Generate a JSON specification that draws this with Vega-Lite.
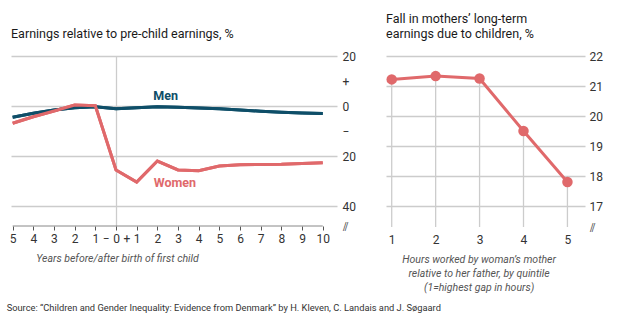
{
  "$schema": "https://vega.github.io/schema/vega-lite/v6.json",
  "background": "white",
  "padding": {"left": 6, "top": 12, "right": 10, "bottom": 8},
  "config": {
    "font": "Roboto",
    "view": {"stroke": null},
    "axis": {"labelColor": "#333333", "labelFontSize": 12, "labelOverlap": false, "labelFlush": false, "tickCount": 50, "gridColor": "#cccccc", "gridWidth": 1.3, "titleFontWeight": "normal", "titleColor": "#555555", "titleFontStyle": "italic", "titleFontSize": 10.5}
  },
  "datasets": {
    "earn": [
      {"year": -5, "value": -4.5, "sex": "Men"},
      {"year": -4, "value": -2.9, "sex": "Men"},
      {"year": -3, "value": -1.6, "sex": "Men"},
      {"year": -2, "value": -0.7, "sex": "Men"},
      {"year": -1, "value": -0.3, "sex": "Men"},
      {"year": 0, "value": -1.1, "sex": "Men"},
      {"year": 1, "value": -0.7, "sex": "Men"},
      {"year": 2, "value": -0.3, "sex": "Men"},
      {"year": 3, "value": -0.5, "sex": "Men"},
      {"year": 4, "value": -0.8, "sex": "Men"},
      {"year": 5, "value": -1.1, "sex": "Men"},
      {"year": 6, "value": -1.6, "sex": "Men"},
      {"year": 7, "value": -2.1, "sex": "Men"},
      {"year": 8, "value": -2.5, "sex": "Men"},
      {"year": 9, "value": -2.8, "sex": "Men"},
      {"year": 10, "value": -3.0, "sex": "Men"},
      {"year": -5, "value": -6.9, "sex": "Women"},
      {"year": -4, "value": -4.3, "sex": "Women"},
      {"year": -3, "value": -2.0, "sex": "Women"},
      {"year": -2, "value": 0.4, "sex": "Women"},
      {"year": -1, "value": 0.1, "sex": "Women"},
      {"year": 0, "value": -25.6, "sex": "Women"},
      {"year": 1, "value": -30.4, "sex": "Women"},
      {"year": 2, "value": -22.0, "sex": "Women"},
      {"year": 3, "value": -25.6, "sex": "Women"},
      {"year": 4, "value": -25.9, "sex": "Women"},
      {"year": 5, "value": -24.0, "sex": "Women"},
      {"year": 6, "value": -23.5, "sex": "Women"},
      {"year": 7, "value": -23.4, "sex": "Women"},
      {"year": 8, "value": -23.3, "sex": "Women"},
      {"year": 9, "value": -23.0, "sex": "Women"},
      {"year": 10, "value": -22.7, "sex": "Women"}
    ],
    "labels": [
      {"year": 2.4, "value": 4.2, "sex": "Men"},
      {"year": 2.85, "value": -30.8, "sex": "Women"}
    ],
    "fall": [
      {"quintile": 1, "value": 21.22},
      {"quintile": 2, "value": 21.33},
      {"quintile": 3, "value": 21.25},
      {"quintile": 4, "value": 19.5},
      {"quintile": 5, "value": 17.8}
    ]
  },
  "title": {"text": "Source: “Children and Gender Inequality: Evidence from Denmark” by H. Kleven, C. Landais and J. Søgaard", "orient": "bottom", "anchor": "start", "fontSize": 9.3, "fontWeight": "normal", "color": "#333333", "offset": 11},
  "bounds": "flush",
  "spacing": 49,
  "hconcat": [
    {
      "width": 326,
      "height": 170,
      "title": {"text": "Earnings relative to pre-child earnings, %", "anchor": "start", "fontSize": 12.5, "fontWeight": "normal", "color": "#1a1a1a", "offset": 10, "frame": "group"},
      "layer": [
        {
          "data": {"name": "earn"},
          "mark": {"type": "line", "strokeWidth": 3},
          "encoding": {
            "x": {"field": "year", "type": "quantitative", "scale": {"domain": [-5.08, 10.69], "nice": false, "zero": false},
              "axis": {"title": "Years before/after birth of first child", "titleX": 106, "titleAlign": "center", "titlePadding": 9,
                "values": [-5, -4, -3, -2, -1, -0.5, 0, 0.5, 1, 2, 3, 4, 5, 6, 7, 8, 9, 10],
                "tickCount": 50,
                "labelExpr": "datum.value == -0.5 ? '−' : datum.value == 0.5 ? '+' : abs(datum.value)",
                "labelOverlap": false, "labelFlush": false, "labelBound": false,
                "domain": false, "tickSize": 4, "tickColor": "#555555", "tickWidth": 1,
                "tickOpacity": {"condition": {"test": "abs(datum.value) == 0.5", "value": 0}, "value": 1},
                "grid": true,
                "gridOpacity": {"condition": {"test": "datum.value == 0", "value": 1}, "value": 0},
                "labelPadding": 3}},
            "y": {"field": "value", "type": "quantitative", "scale": {"domain": [-48, 20], "nice": false},
              "axis": {"orient": "right", "title": null, "values": [20, 10, 0, -10, -20, -40, -48],
                "tickCount": 50,
                "labelExpr": "datum.value == 10 ? '+' : datum.value == -10 ? '−' : datum.value == -48 ? '⫽' : abs(datum.value)",
                "labelOverlap": false,
                "domain": false, "ticks": false, "labelPadding": 5, "labelAlign": "left",
                "gridOpacity": {"condition": {"test": "datum.value == 10 || datum.value == -10 || datum.value == -48", "value": 0}, "value": 1}}},
            "color": {"field": "sex", "type": "nominal", "scale": {"domain": ["Men", "Women"], "range": ["#0e4e68", "#e0696b"]}, "legend": null}
          }
        },
        {
          "data": {"values": [{"from": -5, "to": 10, "base": -48}]},
          "mark": {"type": "rule", "color": "#888888", "strokeWidth": 1},
          "encoding": {"x": {"field": "from", "type": "quantitative"}, "x2": {"field": "to"}, "y": {"field": "base", "type": "quantitative"}}
        },
        {
          "mark": {"type": "rule", "color": "#e3120b", "strokeWidth": 1},
          "encoding": {"y": {"datum": 0}}
        },
        {
          "data": {"name": "earn"},
          "mark": {"type": "line", "strokeWidth": 3},
          "encoding": {
            "x": {"field": "year", "type": "quantitative"},
            "y": {"field": "value", "type": "quantitative"},
            "color": {"field": "sex", "type": "nominal", "legend": null}
          }
        },
        {
          "data": {"name": "labels"},
          "mark": {"type": "text", "fontWeight": "bold", "fontSize": 12.5},
          "encoding": {
            "x": {"field": "year", "type": "quantitative"},
            "y": {"field": "value", "type": "quantitative"},
            "text": {"field": "sex"},
            "color": {"field": "sex", "type": "nominal", "legend": null}
          }
        }
      ]
    },
    {
      "width": 199,
      "height": 171,
      "title": {"text": ["Fall in mothers’ long-term", "earnings due to children, %"], "anchor": "start", "fontSize": 12.5, "fontWeight": "normal", "color": "#1a1a1a", "offset": 10, "lineHeight": 15, "frame": "group"},
      "data": {"name": "fall"},
      "layer": [
        {
          "mark": {"type": "rule", "color": "#cccccc", "strokeWidth": 1.3},
          "encoding": {
            "x": {"field": "quintile", "type": "quantitative", "scale": {"domain": [0.87, 5.4], "nice": false, "zero": false},
              "axis": {"title": ["Hours worked by woman’s mother", "relative to her father, by quintile", "(1=highest gap in hours)"],
                "titleX": 92.6, "titleAlign": "center", "titleLineHeight": 14, "titlePadding": 9,
                "values": [1, 2, 3, 4, 5], "tickCount": 50, "format": "d", "domain": false, "ticks": false, "grid": false, "labelPadding": 7, "labelFlush": false}},
            "y": {"field": "value", "type": "quantitative", "scale": {"domain": [16.3, 22], "nice": false, "zero": false},
              "axis": {"orient": "right", "title": null, "values": [22, 21, 20, 19, 18, 17, 16.3],
                "tickCount": 50,
                "labelExpr": "datum.value < 17 ? '⫽' : format(datum.value, 'd')",
                "labelOverlap": false,
                "domain": false, "ticks": false, "labelPadding": 4, "labelAlign": "left",
                "gridOpacity": {"condition": {"test": "datum.value < 17", "value": 0}, "value": 1}}},
            "y2": {"datum": 16.3}
          }
        },
        {
          "mark": {"type": "line", "color": "#e0696b", "strokeWidth": 3},
          "encoding": {
            "x": {"field": "quintile", "type": "quantitative"},
            "y": {"field": "value", "type": "quantitative"}
          }
        },
        {
          "mark": {"type": "circle", "color": "#e0696b", "opacity": 1, "size": 110},
          "encoding": {
            "x": {"field": "quintile", "type": "quantitative"},
            "y": {"field": "value", "type": "quantitative"}
          }
        }
      ]
    }
  ]
}
